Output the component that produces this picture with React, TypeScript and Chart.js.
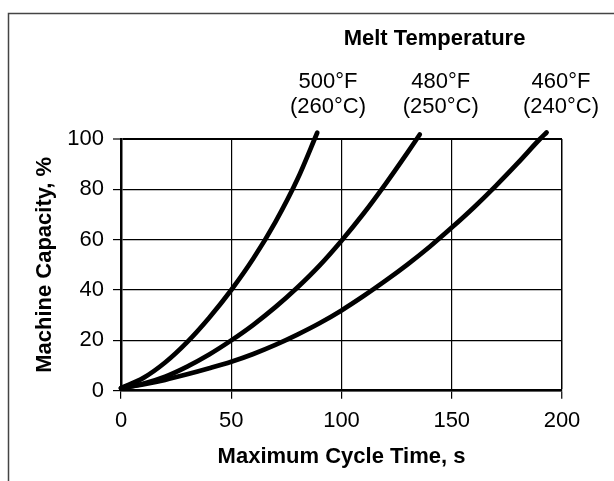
import React, { useEffect, useRef } from "react";
import { Chart, registerables } from "chart.js";

Chart.register(...registerables);

// Maximum cycle time, s (x) vs machine capacity, % (y)
const x500 = [0, 10, 20, 30, 40, 50, 60, 70, 80, 89];
const y500 = [1, 5, 11.2, 19.3, 29, 40, 52.5, 67, 84, 102.5];

const x480 = [0, 10, 20, 30, 40, 50, 60, 70, 80, 90, 100, 110, 120, 130, 135.5];
const y480 = [1, 2.8, 5.6, 9.6, 14.4, 20, 26.2, 33.2, 41, 49.7, 59.6, 70.4, 82.2, 94.7, 101.8];

const x460 = [0, 10, 20, 30, 40, 50, 60, 70, 80, 90, 100, 110, 120, 130, 140, 150, 160, 170, 180, 190, 193];
const y460 = [1, 2.5, 4.3, 6.5, 8.9, 11.5, 14.6, 18.2, 22.3, 26.8, 31.9, 37.6, 43.7, 50.2, 57.2, 64.8, 72.8, 81.4, 90.5, 100, 102.6];

const seriesLabelsF = ["500°F", "480°F", "460°F"];
const seriesLabelsC = ["(260°C)", "(250°C)", "(240°C)"];
const labelCenters = [328, 440.7, 561];
const legendTitle = "Melt Temperature";
const xTitle = "Maximum Cycle Time, s";
const yTitle = "Machine Capacity, %";

const FONT = '"Liberation Sans", Arial, Helvetica, sans-serif';

function toPoints(xs: number[], ys: number[]) {
  return xs.map((x, i) => ({ x, y: ys[i] }));
}

const annotations = {
  id: "annotations",
  afterDraw(chart: any) {
    const ctx = chart.ctx as CanvasRenderingContext2D;
    ctx.save();
    // frame
    ctx.strokeStyle = "#444";
    ctx.lineWidth = 1.5;
    ctx.beginPath();
    ctx.moveTo(8.5, 481);
    ctx.lineTo(8.5, 13.5);
    ctx.lineTo(614, 13.5);
    ctx.stroke();

    ctx.fillStyle = "#000";
    ctx.textAlign = "center";
    ctx.textBaseline = "alphabetic";
    ctx.font = `bold 22px ${FONT}`;
    ctx.fillText(legendTitle, 434.5, 45);
    ctx.font = `22px ${FONT}`;
    for (let i = 0; i < seriesLabelsF.length; i++) {
      ctx.fillText(seriesLabelsF[i], labelCenters[i], 88.3);
      ctx.fillText(seriesLabelsC[i], labelCenters[i], 113);
    }
    ctx.restore();
  },
};

export default function App() {
  const ref = useRef<HTMLCanvasElement | null>(null);

  useEffect(() => {
    document.body.style.margin = "0";
    const canvas = ref.current;
    if (!canvas) return;
    const ds = (xs: number[], ys: number[], label: string) => ({
      label,
      data: toPoints(xs, ys),
      borderColor: "#000",
      backgroundColor: "#000",
      borderWidth: 4.7,
      borderCapStyle: "round" as const,
      borderJoinStyle: "round" as const,
      pointRadius: 0,
      cubicInterpolationMode: "monotone" as const,
      clip: false as any,
      fill: false,
    });
    const chart = new Chart(canvas, {
      type: "line",
      data: {
        datasets: [
          ds(x500, y500, seriesLabelsF[0]),
          ds(x480, y480, seriesLabelsF[1]),
          ds(x460, y460, seriesLabelsF[2]),
        ],
      },
      options: {
        responsive: false,
        animation: false,
        devicePixelRatio: 1,
        layout: { padding: { left: 0, top: 139, right: 52, bottom: 0 } },
        plugins: {
          legend: { display: false },
          tooltip: { enabled: false },
          title: { display: false },
        },
        scales: {
          x: {
            type: "linear",
            min: 0,
            max: 200,
            ticks: {
              stepSize: 50,
              color: "#000",
              padding: 9,
              font: { family: FONT, size: 22 },
              maxRotation: 0,
            },
            grid: {
              color: "#000",
              lineWidth: (c: any) => (c.tick && c.tick.value === 200 ? 1.5 : 1.2),
              drawTicks: true,
              tickLength: 8,
              tickColor: "#000",
              tickWidth: 1.2,
            },
            border: { display: true, color: "#000", width: 2.5 },
            title: {
              display: true,
              text: xTitle,
              color: "#000",
              font: { family: FONT, size: 22, weight: "bold" },
              padding: { top: 0, bottom: 11 },
            },
            afterFit: (s: any) => {
              s.height = 90.3;
            },
          },
          y: {
            type: "linear",
            min: 0,
            max: 100,
            ticks: {
              stepSize: 20,
              color: "#000",
              padding: 9,
              font: { family: FONT, size: 22 },
            },
            grid: {
              color: "#000",
              lineWidth: (c: any) => (c.tick && c.tick.value === 100 ? 2 : 1.2),
              drawTicks: true,
              tickLength: 8,
              tickColor: "#000",
              tickWidth: 1.2,
            },
            border: { display: true, color: "#000", width: 2.5 },
            title: {
              display: true,
              text: yTitle,
              color: "#000",
              font: { family: FONT, size: 22, weight: "bold" },
              padding: { top: 32, bottom: 0 },
            },
            afterFit: (s: any) => {
              s.width = 121;
            },
          },
        },
      },
      plugins: [annotations],
    });
    return () => chart.destroy();
  }, []);

  return (
    <div style={{ position: "absolute", left: 0, top: 0, width: 614, height: 481, background: "#fff" }}>
      <canvas ref={ref} width={614} height={481} style={{ display: "block" }} />
    </div>
  );
}
